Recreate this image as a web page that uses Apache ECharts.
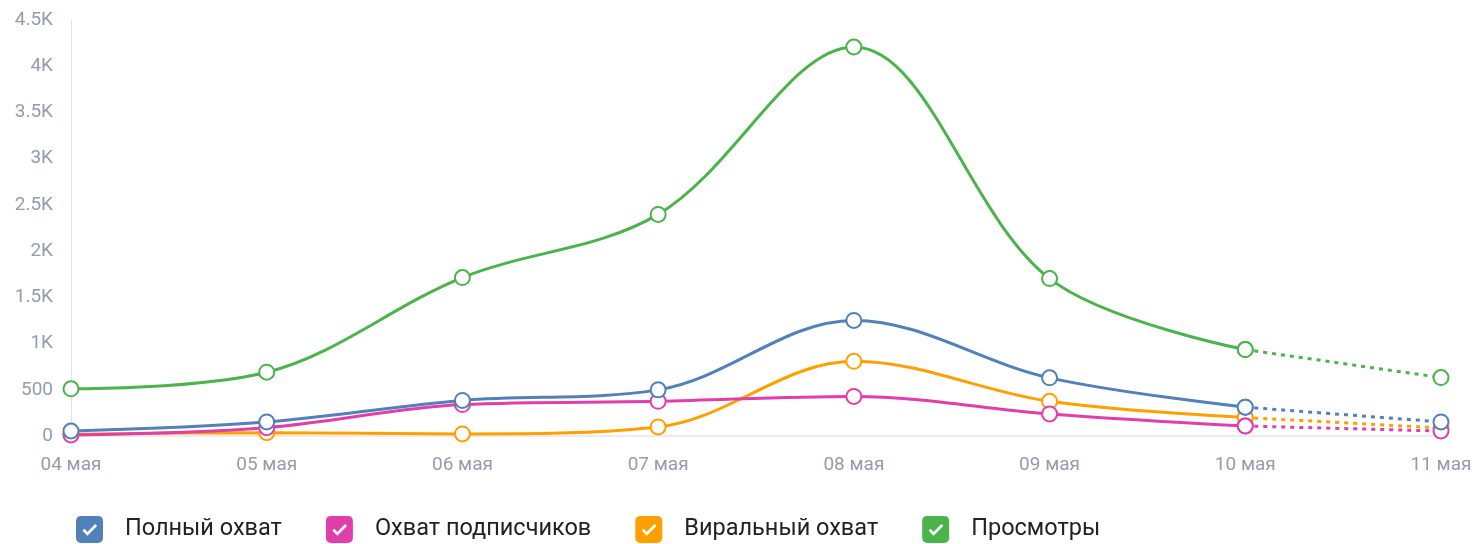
<!DOCTYPE html>
<html>
<head>
<meta charset="utf-8">
<script src="https://cdn.jsdelivr.net/npm/echarts@6/dist/echarts.min.js"></script>
<style>
  html, body { margin: 0; padding: 0; background: #fff; }
  #chart { width: 1476px; height: 544px; }
</style>
</head>
<body>
<div id="chart"></div>
<script>
// даты по оси X
var days = ['04 мая', '05 мая', '06 мая', '07 мая', '08 мая', '09 мая', '10 мая', '11 мая'];
// значения серий
var fullReach = [54, 152, 385, 499, 1250, 629, 312, 152];
var subsReach = [11, 90, 340, 375, 428, 239, 108, 54];
var viralReach = [20, 36, 22, 98, 808, 375, 200, 87];
var views = [510, 690, 1714, 2397, 4208, 1703, 935, 632];
var seriesNames = ['Полный охват', 'Охват подписчиков', 'Виральный охват', 'Просмотры'];
var seriesColors = ['#5181b8', '#e03fab', '#ffa000', '#4bb34b'];
// порядок наложения: оранжевая снизу, зелёная сверху
var seriesZ = [4, 3, 2, 5];

// иконка легенды: скруглённый квадрат с вырезанной галочкой
var checkIcon = 'path://M20,0 L80,0 Q100,0 100,20 L100,80 Q100,100 80,100 L20,100 Q0,100 0,80 L0,20 Q0,0 20,0 Z ' +
  'M24,54 L42,73 L78,37 L71,30 L42,59 L31,47 Z';

function kFormat(v) {
  if (v === 0) return '0';
  if (v < 1000) return String(v);
  return (v / 1000) + 'K';
}

// сплошная часть до 10 мая и пунктирная с 10 по 11 мая
function solidPart(arr) {
  return arr.map(function (v, i) { return i < arr.length - 1 ? v : '-'; });
}
function dottedPart(arr) {
  return arr.map(function (v, i) { return i >= arr.length - 2 ? v : '-'; });
}

var allData = [fullReach, subsReach, viralReach, views];
var series = [];
allData.forEach(function (arr, idx) {
  var base = {
    name: seriesNames[idx],
    type: 'line',
    symbol: 'emptyCircle',
    symbolSize: 15,
    z: seriesZ[idx],
    itemStyle: { color: seriesColors[idx], borderWidth: 3 },
    emphasis: { disabled: true }
  };
  series.push(Object.assign({}, base, {
    data: solidPart(arr),
    smooth: 0.35,
    lineStyle: { color: seriesColors[idx], width: 3 }
  }));
  series.push(Object.assign({}, base, {
    data: dottedPart(arr),
    lineStyle: { color: seriesColors[idx], width: 3, type: [4, 5] }
  }));
});

var chart = echarts.init(document.getElementById('chart'));
var option = {
  animation: false,
  textStyle: { fontFamily: 'Roboto, sans-serif' },
  grid: { left: 71, right: 35, top: 20, bottom: 108 },
  legend: {
    left: 71,
    top: 511,
    itemWidth: 27,
    itemHeight: 27,
    itemGap: 44,
    icon: checkIcon,
    selectedMode: false,
    itemStyle: { borderWidth: 0 },
    textStyle: { fontSize: 23.5, color: '#222', padding: [0, 0, 0, 17] },
    data: seriesNames.map(function (n, i) {
      return { name: n, itemStyle: { color: seriesColors[i], borderWidth: 0 } };
    })
  },
  xAxis: {
    type: 'category',
    data: days,
    boundaryGap: false,
    axisLine: { lineStyle: { color: '#e3e6ea', width: 1.5 } },
    axisTick: { show: false },
    axisLabel: { color: '#939cab', fontSize: 19, margin: 20 },
    splitLine: { show: false }
  },
  yAxis: {
    type: 'value',
    min: 0,
    max: 4500,
    interval: 500,
    axisLine: { show: true, lineStyle: { color: '#dde3ea', width: 1 } },
    axisTick: { show: false },
    axisLabel: { color: '#939cab', fontSize: 19, margin: 18, formatter: kFormat },
    splitLine: { show: false }
  },
  series: series
};
chart.setOption(option);
</script>
</body>
</html>
